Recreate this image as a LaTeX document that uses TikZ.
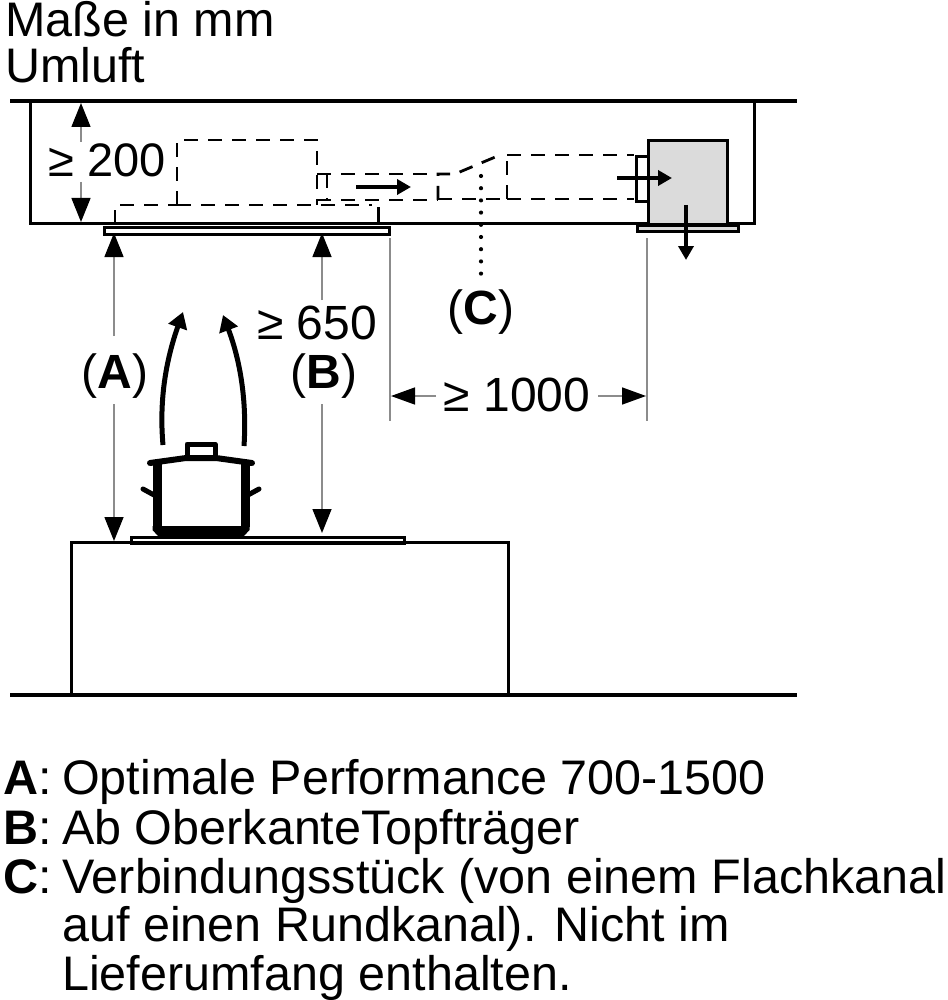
\documentclass[tikz,border=0pt]{standalone}
\usepackage{fontspec}
\setmainfont{Liberation Sans}
\usetikzlibrary{arrows.meta}
\definecolor{dimgray}{gray}{0.55}
\definecolor{boxgray}{gray}{0.86}
\newcommand{\lgkey}[1]{\makebox[59pt][l]{\textbf{#1}:}}
\tikzset{
  wall/.style={draw=black,line width=3pt},
  heavy/.style={draw=black,line width=4pt},
  duct/.style={draw=black,line width=2.8pt,dash pattern=on 14pt off 10pt},
  dimline/.style={draw=dimgray,line width=1.5pt},
  dimtip/.style={dimline,-{Triangle[length=24pt,width=19pt,black]}},
  dimtipsmall/.style={dimline,-{Triangle[length=24pt,width=17pt,black]}},
  flow/.style={draw=black,line width=3.6pt,-{Triangle[length=14pt,width=15pt,black]}},
  steam/.style={draw=black,line width=5pt,-{Triangle[length=16pt,width=19pt,black]}},
  label/.style={font=\fontsize{48}{48}\selectfont,inner sep=0pt},
  legend/.style={font=\fontsize{48.5}{48.5}\selectfont,inner sep=0pt,anchor=base west},
}
\begin{document}
\begin{tikzpicture}[x=1pt,y=-1pt]
\useasboundingbox (0,0) rectangle (947,1000);
% titles
\node[legend] (t1) at (5,36.5) {Maße in mm};
\node[legend] (t2) at (5,83) {Umluft};
% ceiling
\draw[heavy] (10,101) -- (797,101);
\draw[wall] (30,101) -- (30,224) -- (754,224) -- (754,101);
% panel
\node[draw=black,line width=2.6pt,fill=white,minimum width=285pt,minimum height=7pt,inner sep=0pt,anchor=north west] (panel) at (103,226) {};
% dashed ducts
\draw[duct] (115,224) -- (115,205) -- (177,205);
\draw[duct] (177,205) -- (177,140) -- (317,140) -- (317,205);
\draw[duct] (177,205) -- (372,205);
\draw[wall] (378,224) -- (378,207);
\draw[duct] (317,174) -- (438,174);
\draw[duct] (327,174) -- (327,200);
\draw[duct] (317,200) -- (438,200);
\draw[duct] (438,200) -- (438,174) -- (455,174) -- (500,155);
\draw[duct] (438,199) -- (507,199);
\draw[duct] (507,199) -- (507,155);
\draw[duct] (507,199) -- (634,199);
\draw[duct] (507,155) -- (634,155);
% extractor box
\node[draw=black,line width=2.6pt,fill=white,minimum width=12pt,minimum height=45pt,inner sep=0pt,anchor=north west] (flange) at (635,155) {};
\node[draw=black,line width=3pt,fill=boxgray,minimum width=79pt,minimum height=84pt,inner sep=0pt,anchor=north west] (box) at (647,139.5) {};
\node[draw=black,line width=2.6pt,fill=boxgray,minimum width=101pt,minimum height=6pt,inner sep=0pt,anchor=north west] (plate) at (636,224) {};
% flow arrows
\coordinate (f1a) at (356,187); \coordinate (f1b) at (411,187);
\coordinate (f2a) at (617,178); \coordinate (f2b) at (672,178);
\coordinate (f3a) at (686,205); \coordinate (f3b) at (686,260);
\draw[flow] (f1a) -- (f1b);
\draw[flow] (f2a) -- (f2b);
\draw[flow] (f3a) -- (f3b);
% dotted leader
\node[label] (C) at (481,312) {(\textbf{C})};
\coordinate (c0) at (481,176); \coordinate (c1) at (481,277);
\draw[draw=black,line width=4.2pt,line cap=round,dash pattern=on 0pt off 12.2pt] (c0) -- (c1);
% >= 200
\node[label,font=\fontsize{47}{47}\selectfont] (d200) at (107,160) {≥ 200};
\coordinate (d2a) at (81,142); \coordinate (d2b) at (81,103);
\coordinate (d2c) at (81,182); \coordinate (d2d) at (81,222);
\draw[dimtip] (d2a) -- (d2b);
\draw[dimtip] (d2c) -- (d2d);
% hob + counter
\node[draw=black,line width=2.6pt,fill=white,minimum width=273pt,minimum height=6pt,inner sep=0pt,anchor=north west] (hob) at (130,536) {};
\draw[wall] (71,695) -- (71,542) -- (508,542) -- (508,695);
\draw[heavy] (10,695) -- (797,695);
% A, B
\node[label] (A) at (115,376) {(\textbf{A})};
\node[label] (B) at (324,376) {(\textbf{B})};
\node[label] (d650) at (317,323) {≥ 650};
\coordinate (a1) at (114,336); \coordinate (a2) at (114,233);
\coordinate (a3) at (114,404); \coordinate (a4) at (114,541);
\coordinate (b1) at (322,300); \coordinate (b2) at (322,233);
\coordinate (b3) at (322,404); \coordinate (b4) at (322,533);
\draw[dimtip] (a1) -- (a2);
\draw[dimtip] (a3) -- (a4);
\draw[dimtip] (b1) -- (b2);
\draw[dimtip] (b3) -- (b4);
% 1000
\coordinate (e1) at (390,238); \coordinate (e2) at (390,421);
\coordinate (e3) at (647,238); \coordinate (e4) at (647,421);
\draw[dimline] (e1) -- (e2);
\draw[dimline] (e3) -- (e4);
\node[label] (d1000) at (517,395) {≥ 1000};
\coordinate (g1) at (436,396); \coordinate (g2) at (391,396);
\coordinate (g3) at (598,396); \coordinate (g4) at (646,396);
\draw[dimtipsmall] (g1) -- (g2);
\draw[dimtipsmall] (g3) -- (g4);
% pot
\draw[draw=black,line width=9pt] (157,463) -- (157,527);
\draw[draw=black,line width=9pt] (245,463) -- (245,527);
\fill[black] (152.5,526) -- (249.5,526) -- (249.5,530) -- (244,536) -- (158,536) -- (152.5,530) -- cycle;
\draw[draw=black,line width=6pt,line cap=round] (150,463) -- (186,458) -- (216,458) -- (252,463);
\draw[draw=black,line width=5pt,line join=round] (187,458) -- (187,444) -- (215,444) -- (215,458);
\draw[draw=black,line width=5pt,line cap=round] (143,489) -- (154,495);
\draw[draw=black,line width=5pt,line cap=round] (259,489) -- (248,495);
% steam
\coordinate (s1) at (163,445); \coordinate (s2) at (183,312);
\coordinate (s3) at (244,446); \coordinate (s4) at (223,315);
\draw[steam] (s1) .. controls (159,400) and (166,360) .. (s2);
\draw[steam] (s3) .. controls (247,400) and (240,360) .. (s4);
% legend
\node[legend] (l1) at (3,794) {\lgkey{A}Optimale Performance 700-1500};
\node[legend] (l2) at (3,844) {\lgkey{B}Ab OberkanteTopfträger};
\node[legend] (l3) at (3,893) {\lgkey{C}Verbindungsstück (von einem Flachkanal};
\node[legend] (l4) at (62,941) {auf einen Rundkanal). Nicht im};
\node[legend] (l5) at (62,990) {Lieferumfang enthalten.};
\end{tikzpicture}
\end{document}
